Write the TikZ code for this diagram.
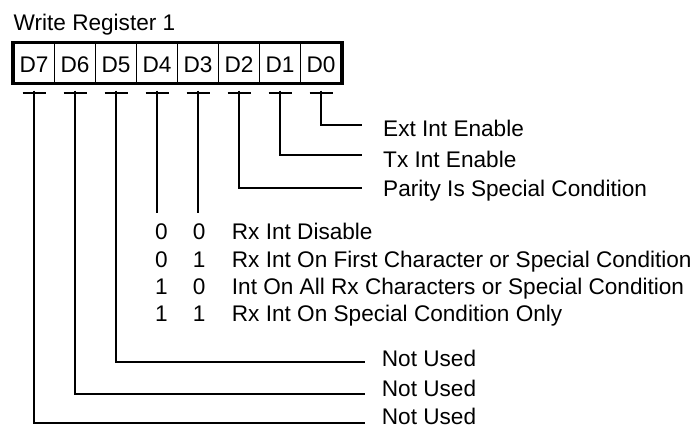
\documentclass[tikz,border=0pt]{standalone}
\usepackage{fontspec}
\setmainfont{Liberation Sans}
\begin{document}
\begin{tikzpicture}[x=1pt,y=-1pt,
  txt/.style={font=\fontsize{22.6}{27}\selectfont, inner sep=0pt, anchor=base west},
  cell/.style={draw, line width=1pt, minimum width=41pt, inner sep=0pt,
    text height=29.7pt, text depth=10.3pt, anchor=base,
    font=\fontsize{22.6}{27}\selectfont},
  frame/.style={line width=3.5pt},
  tee/.style={line width=1.8pt},
  wire/.style={line width=1.4pt}]
\useasboundingbox (0,0) rectangle (695,428);

% title
\node[txt] (title) at (13.5,31) {Write Register 1};

% register cells D7 ... D0
\foreach \i in {0,...,7}{
  \node[cell] (c\i) at ({321-41*\i},72.7) {D\i};
  \coordinate (t\i) at ({321-41*\i},92.7);
  \draw[tee] ([xshift=-11.5pt]t\i) -- ([xshift=11.5pt]t\i);
}
\draw[frame] (c7.north west) rectangle (c0.south east);

% field descriptions
\node[txt] (ext)    at (383,136)   {Ext Int Enable};
\node[txt] (tx)     at (383,167.7) {Tx Int Enable};
\node[txt] (parity) at (383,196.7) {Parity Is Special Condition};
\node[txt] (nu5)    at (381.7,366)   {Not Used};
\node[txt] (nu6)    at (381.7,396.5) {Not Used};
\node[txt] (nu7)    at (381.7,424.5) {Not Used};

\coordinate (e0) at (362,125);
\coordinate (e1) at (362,155);
\coordinate (e2) at (362,188);
\coordinate (e5) at (365,362);
\coordinate (e6) at (365,394);
\coordinate (e7) at (365,423);
\coordinate (s4) at (157,213.3);
\coordinate (s3) at (198,213.3);

% receive interrupt mode table (D4 D3)
\foreach \r/\a/\b/\t [count=\k] in {
  239.3/0/0/Rx Int Disable,
  267/0/1/Rx Int On First Character or Special Condition,
  294.3/1/0/Int On All Rx Characters or Special Condition,
  321.7/1/1/Rx Int On Special Condition Only}{
  \node[txt] (ra\k) at (155,\r) {\a};
  \node[txt] (rb\k) at (192.7,\r) {\b};
  \node[txt] (rt\k) at (231.7,\r) {\t};
}

% connectors
\draw[wire] ([yshift=2pt]t0) |- (e0);
\draw[wire] ([yshift=2pt]t1) |- (e1);
\draw[wire] ([yshift=2pt]t2) |- (e2);
\draw[wire] ([yshift=2pt]t3) -- (s3);
\draw[wire] ([yshift=2pt]t4) -- (s4);
\draw[wire] ([yshift=2pt]t5) |- (e5);
\draw[wire] ([yshift=2pt]t6) |- (e6);
\draw[wire] ([yshift=2pt]t7) |- (e7);
\end{tikzpicture}
\end{document}
